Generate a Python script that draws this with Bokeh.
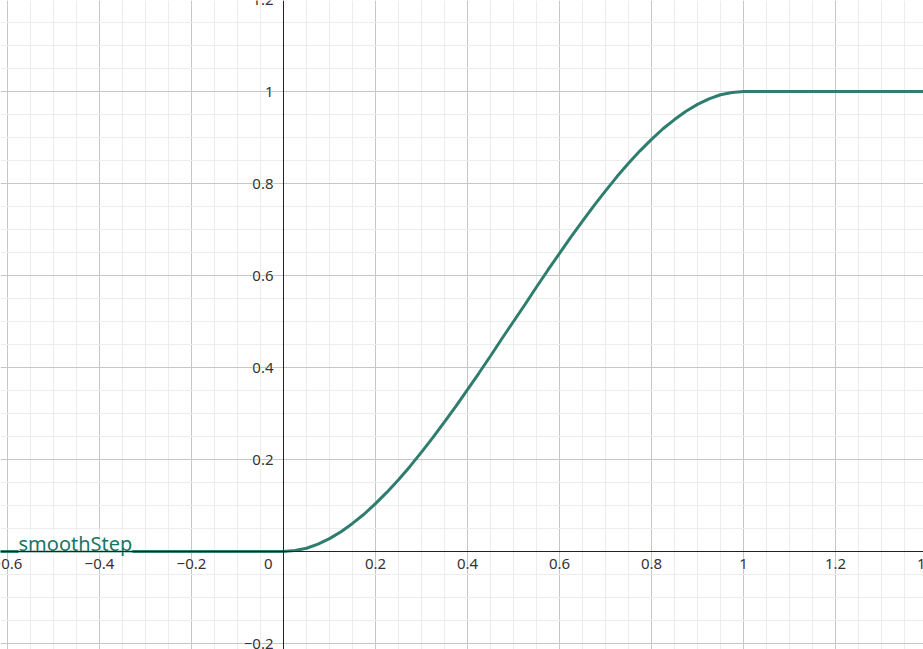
from bokeh.plotting import figure
from bokeh.models import Span, SingleIntervalTicker, ColumnDataSource
from bokeh.core.properties import value
from bokeh.embed import file_html
from bokeh.resources import INLINE

# curve samples
curve_x = [-0.62, 0.0, 0.025, 0.05, 0.075, 0.1, 0.125, 0.15, 0.175, 0.2, 0.225, 0.25, 0.275, 0.3,
           0.325, 0.35, 0.375, 0.4, 0.425, 0.45, 0.475, 0.5, 0.525, 0.55, 0.575, 0.6, 0.625,
           0.65, 0.675, 0.7, 0.725, 0.75, 0.775, 0.8, 0.825, 0.85, 0.875, 0.9, 0.925, 0.95,
           0.975, 1.0, 1.4]
curve_y = [0.0, 0.0, 0.002, 0.007, 0.016, 0.028, 0.043, 0.061, 0.081, 0.104, 0.129, 0.156, 0.185,
           0.216, 0.248, 0.282, 0.316, 0.352, 0.388, 0.425, 0.463, 0.5, 0.537, 0.575, 0.612,
           0.648, 0.684, 0.718, 0.752, 0.784, 0.815, 0.844, 0.871, 0.896, 0.919, 0.939, 0.957,
           0.972, 0.984, 0.993, 0.998, 1.0, 1.0]

x_ticks = [-0.6, -0.4, -0.2, 0.2, 0.4, 0.6, 0.8, 1.0, 1.2, 1.4]
x_tick_labels = ["\u22120.6", "\u22120.4", "\u22120.2", "0.2", "0.4", "0.6", "0.8", "1", "1.2", "1.4"]
y_ticks = [-0.2, 0.2, 0.4, 0.6, 0.8, 1.0, 1.2]
y_tick_labels = ["\u22120.2", "0.2", "0.4", "0.6", "0.8", "1", "1.2"]
series_name = "smoothStep"
label_x = -0.576

W, H = 923, 649
x0 = (0 - 283) / 460
x1 = (923 - 283) / 460
y1 = (551 - 0) / 460
y0 = (551 - 649) / 460

p = figure(width=W, height=H, x_range=(x0, x1), y_range=(y0, y1),
           output_backend="svg", toolbar_location=None, min_border=0)
p.xaxis.visible = False
p.yaxis.visible = False
p.outline_line_color = None
p.background_fill_color = "white"

p.xgrid.ticker = SingleIntervalTicker(interval=0.2, num_minor_ticks=4)
p.ygrid.ticker = SingleIntervalTicker(interval=0.2, num_minor_ticks=4)
for g in (p.xgrid, p.ygrid):
    g.grid_line_color = "#c6c6c6"
    g.grid_line_width = 1
    g.minor_grid_line_color = "#ececec"
    g.minor_grid_line_width = 1

p.add_layout(Span(location=0, dimension="width", line_color="#222222", line_width=1))
p.add_layout(Span(location=0, dimension="height", line_color="#222222", line_width=1))

p.line(curve_x, curve_y, line_color="#2e7d6e", line_width=3)

font = value("Noto Sans")


def halo_text(color, **kw):
    # white halo underneath, then the real text
    p.text(text_color="white", text_outline_color="white", **kw)
    p.text(text_color=color, **kw)


xs = ColumnDataSource(dict(x=x_ticks, y=[0] * len(x_ticks), t=x_tick_labels))
halo_text("#333333", x="x", y="y", text="t", source=xs, text_font=font, text_font_size="15px",
          text_align="center", text_baseline="top", y_offset=7)
ys = ColumnDataSource(dict(x=[0] * len(y_ticks), y=y_ticks, t=y_tick_labels))
halo_text("#333333", x="x", y="y", text="t", source=ys, text_font=font, text_font_size="15px",
          text_align="right", text_baseline="middle", x_offset=-10)
halo_text("#333333", x=[0], y=[0], text=["0"], text_font=font, text_font_size="15px",
          text_align="right", text_baseline="top", x_offset=-11, y_offset=7)

p.text(x=[label_x], y=[0], text=[series_name], text_font=font, text_font_size="20px",
       text_color="white", text_outline_color="white", text_align="left",
       text_baseline="bottom", y_offset=5,
       background_fill_color="white", background_fill_alpha=0.6, padding=0)
p.text(x=[label_x], y=[0], text=[series_name], text_font=font, text_font_size="20px",
       text_color="#177565", text_align="left", text_baseline="bottom", y_offset=5)

open("out.html", "w").write(file_html(p, INLINE))
